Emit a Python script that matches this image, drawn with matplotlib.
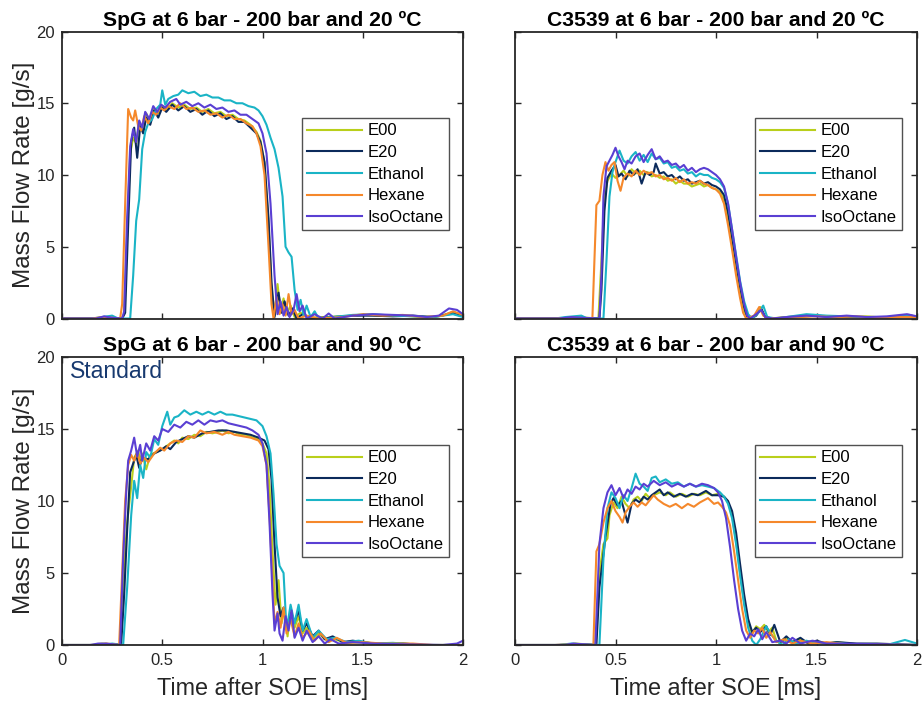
import matplotlib
matplotlib.use("Agg")
import matplotlib.pyplot as plt

plt.rcParams['font.family'] = ['Liberation Sans', 'DejaVu Sans']

# ---------------- data ----------------
FUELS = ["E00", "E20", "Ethanol", "Hexane", "IsoOctane"]
COLORS = ["#b9cf1b", "#0b2a5b", "#1ab4c6", "#f5882b", "#5a3fd3"]
TITLES = ["SpG at 6 bar - 200 bar and 20 ºC", "C3539 at 6 bar - 200 bar and 20 ºC",
          "SpG at 6 bar - 200 bar and 90 ºC", "C3539 at 6 bar - 200 bar and 90 ºC"]
XTICKS = [0, 0.5, 1, 1.5, 2]
XTICKLABELS = ["0", "0.5", "1", "1.5", "2"]
YTICKS = [0, 5, 10, 15, 20]
XLABEL = "Time after SOE [ms]"
YLABEL = "Mass Flow Rate [g/s]"
NOTE = "Standard"

# Panel A: SpG, 20 ºC  (time [ms], mass flow [g/s])
A_E00 = [(0,0),(0.18,0),(0.22,0.1),(0.26,0),(0.30,0.05),(0.31,0.3),(0.325,6),(0.34,11.5),(0.355,12.6),(0.37,12.2),(0.385,13.6),(0.40,13.2),(0.42,14.3),(0.44,13.7),(0.46,14.6),(0.48,14.3),(0.50,14.8),(0.52,14.6),(0.55,15.0),(0.58,14.7),(0.61,14.9),(0.64,14.6),(0.67,14.7),(0.70,14.4),(0.73,14.6),(0.76,14.3),(0.79,14.4),(0.82,14.1),(0.85,14.2),(0.88,13.9),(0.91,13.8),(0.94,13.5),(0.97,13.0),(0.99,12.4),(1.01,10.8),(1.03,6.5),(1.045,2.0),(1.06,0.2),(1.075,2.4),(1.09,0.5),(1.105,1.4),(1.12,0.3),(1.14,0.9),(1.16,0.1),(1.19,0.4),(1.23,0.05),(1.3,0.1),(1.4,0.15),(1.5,0.25),(1.6,0.2),(1.7,0.2),(1.8,0.1),(1.88,0.15),(1.95,0.45),(2.0,0.2)]
A_E20 = [(0,0),(0.2,0),(0.24,0.05),(0.30,0),(0.315,0.4),(0.33,6.5),(0.345,12.3),(0.36,13.3),(0.375,11.2),(0.39,13.4),(0.405,12.9),(0.42,14.0),(0.44,13.5),(0.46,14.5),(0.48,14.0),(0.50,14.7),(0.52,14.4),(0.55,14.9),(0.58,14.5),(0.61,14.8),(0.64,14.4),(0.67,14.6),(0.70,14.2),(0.73,14.5),(0.76,14.1),(0.79,14.3),(0.82,13.9),(0.85,14.1),(0.88,13.7),(0.91,13.7),(0.94,13.3),(0.97,12.9),(0.99,12.3),(1.01,10.9),(1.03,7.0),(1.045,2.5),(1.06,0.1),(1.08,1.8),(1.095,0.4),(1.11,1.2),(1.13,0.2),(1.15,0.7),(1.17,0),(1.2,0.3),(1.25,0),(1.35,0.1),(1.45,0.2),(1.55,0.2),(1.65,0.15),(1.75,0.2),(1.85,0.1),(1.95,0.35),(2.0,0.15)]
A_ETH = [(0,0),(0.15,0),(0.2,0.1),(0.25,0.2),(0.28,0),(0.34,0),(0.355,3.0),(0.37,6.8),(0.385,8.3),(0.40,11.8),(0.415,13.0),(0.43,13.6),(0.45,13.9),(0.47,14.6),(0.49,14.9),(0.50,15.9),(0.515,14.9),(0.53,15.3),(0.555,15.5),(0.58,15.6),(0.60,15.9),(0.63,15.7),(0.66,15.8),(0.69,15.5),(0.72,15.6),(0.75,15.4),(0.78,15.4),(0.81,15.2),(0.84,15.2),(0.87,15.0),(0.90,15.0),(0.93,14.8),(0.96,14.7),(0.98,14.5),(1.0,14.1),(1.02,13.5),(1.04,12.6),(1.06,11.8),(1.08,10.5),(1.10,8.5),(1.115,5.0),(1.13,4.6),(1.145,4.3),(1.16,2.0),(1.175,0.6),(1.19,1.3),(1.205,0.2),(1.22,0.9),(1.24,0.1),(1.26,0.5),(1.28,0),(1.35,0.1),(1.45,0.25),(1.55,0.3),(1.65,0.2),(1.75,0.15),(1.85,0.1),(1.95,0.3),(2.0,0.1)]
A_HEX = [(0,0),(0.15,0),(0.2,0.1),(0.25,0.05),(0.29,0),(0.30,1.0),(0.315,8),(0.33,14.6),(0.345,14.0),(0.355,13.8),(0.365,14.5),(0.38,13.4),(0.395,13.1),(0.41,14.1),(0.43,13.6),(0.45,14.4),(0.47,14.2),(0.49,14.7),(0.51,14.5),(0.53,14.8),(0.56,14.6),(0.59,15.0),(0.62,14.6),(0.65,14.7),(0.68,14.4),(0.71,14.5),(0.74,14.2),(0.77,14.3),(0.80,14.0),(0.83,14.2),(0.86,13.9),(0.89,13.9),(0.92,13.6),(0.95,13.4),(0.97,12.9),(0.99,12.0),(1.01,10.0),(1.03,5.0),(1.045,1.0),(1.055,0),(1.07,1.5),(1.085,0.3),(1.10,1.0),(1.115,0.2),(1.13,1.7),(1.145,0.3),(1.16,0.6),(1.18,0),(1.22,0.2),(1.28,0),(1.4,0.1),(1.5,0.3),(1.6,0.2),(1.7,0.25),(1.8,0.1),(1.9,0.2),(1.95,0.5),(2.0,0.25)]
A_ISO = [(0,0),(0.17,0),(0.21,0.15),(0.25,0.05),(0.30,0),(0.31,0.5),(0.325,7),(0.34,12.0),(0.355,13.2),(0.37,12.3),(0.385,13.8),(0.40,13.3),(0.415,14.4),(0.435,13.9),(0.455,14.8),(0.475,14.4),(0.495,14.9),(0.515,14.7),(0.54,15.1),(0.57,15.3),(0.59,14.9),(0.62,15.1),(0.65,14.8),(0.68,15.0),(0.71,14.7),(0.74,14.9),(0.77,14.6),(0.80,14.7),(0.83,14.4),(0.86,14.5),(0.89,14.2),(0.92,14.2),(0.95,13.9),(0.98,13.6),(1.0,12.9),(1.02,11.5),(1.04,8.0),(1.06,3.0),(1.075,0.3),(1.09,1.2),(1.105,0.2),(1.12,0.8),(1.135,0.1),(1.155,0.6),(1.17,1.7),(1.185,0.5),(1.20,0.9),(1.22,0),(1.26,0.3),(1.30,0),(1.33,0.35),(1.36,0),(1.45,0.2),(1.55,0.3),(1.65,0.25),(1.75,0.2),(1.82,0.1),(1.88,0.2),(1.93,0.7),(1.97,0.6),(2.0,0.3)]

# Panel B: C3539, 20 ºC
B_E00 = [(0,0),(0.25,0),(0.3,0.1),(0.36,0.05),(0.415,0),(0.43,4),(0.445,8.5),(0.46,9.6),(0.48,10.1),(0.50,9.8),(0.52,10.0),(0.54,10.3),(0.56,9.9),(0.58,10.4),(0.60,10.1),(0.62,10.3),(0.64,10.0),(0.66,10.2),(0.68,9.9),(0.70,10.0),(0.72,9.8),(0.74,9.9),(0.76,9.6),(0.78,9.7),(0.80,9.4),(0.82,9.6),(0.84,9.4),(0.86,9.4),(0.88,9.2),(0.90,9.3),(0.92,9.4),(0.94,9.2),(0.96,9.3),(0.98,9.1),(1.0,9.0),(1.02,8.8),(1.04,8.3),(1.06,7.0),(1.08,5.3),(1.10,3.6),(1.12,2.0),(1.135,0.8),(1.15,0.2),(1.17,0),(1.2,0.3),(1.22,0.8),(1.24,0.2),(1.27,0),(1.35,0.1),(1.45,0.2),(1.55,0.15),(1.65,0.1),(1.75,0.15),(1.85,0.05),(1.95,0.2),(2.0,0.1)]
B_E20 = [(0,0),(0.2,0),(0.3,0.05),(0.42,0),(0.43,2),(0.445,7.5),(0.46,9.8),(0.48,10.3),(0.50,10.7),(0.515,9.9),(0.53,10.1),(0.55,9.7),(0.57,10.3),(0.59,10.0),(0.61,10.4),(0.63,9.4),(0.65,10.2),(0.67,10.0),(0.69,10.2),(0.70,10.8),(0.72,10.1),(0.74,10.2),(0.76,9.9),(0.78,10.0),(0.80,9.7),(0.82,9.9),(0.84,9.6),(0.86,9.7),(0.88,9.4),(0.90,9.5),(0.92,9.6),(0.94,9.4),(0.96,9.5),(0.98,9.3),(1.0,9.2),(1.02,9.0),(1.04,8.6),(1.06,7.4),(1.08,5.6),(1.10,3.9),(1.12,2.2),(1.14,0.8),(1.155,0.1),(1.175,0),(1.2,0.2),(1.225,0.7),(1.245,0.1),(1.28,0),(1.4,0.1),(1.5,0.2),(1.6,0.1),(1.7,0.1),(1.8,0.05),(1.9,0.1),(1.96,0.25),(2.0,0.1)]
B_ETH = [(0,0),(0.2,0),(0.25,0.1),(0.33,0.2),(0.36,0),(0.44,0),(0.455,4),(0.47,8.5),(0.485,10.2),(0.50,10.9),(0.52,11.7),(0.54,11.0),(0.56,10.8),(0.58,11.3),(0.60,11.6),(0.62,11.0),(0.64,11.4),(0.66,10.9),(0.68,11.5),(0.70,11.1),(0.72,11.2),(0.74,10.8),(0.76,10.9),(0.78,10.5),(0.80,10.6),(0.82,10.3),(0.84,10.4),(0.86,10.1),(0.88,10.2),(0.90,9.9),(0.92,10.1),(0.94,10.0),(0.96,10.0),(0.98,9.8),(1.0,9.7),(1.02,9.5),(1.04,9.1),(1.06,8.0),(1.08,6.2),(1.10,4.4),(1.12,2.6),(1.14,1.2),(1.16,0.3),(1.18,0),(1.21,0.4),(1.235,0.9),(1.255,0.1),(1.3,0),(1.4,0.2),(1.45,0.3),(1.55,0.2),(1.65,0.15),(1.75,0.1),(1.85,0.1),(1.95,0.2),(2.0,0.1)]
B_HEX = [(0,0),(0.2,0),(0.3,0.05),(0.385,0),(0.395,4),(0.405,7.9),(0.42,8.2),(0.435,10.0),(0.45,10.9),(0.465,10.3),(0.48,10.7),(0.495,10.9),(0.51,9.6),(0.525,8.9),(0.54,9.8),(0.56,10.1),(0.58,9.9),(0.60,10.3),(0.62,10.0),(0.64,10.3),(0.66,10.1),(0.68,10.2),(0.70,9.9),(0.72,10.0),(0.74,9.7),(0.76,9.8),(0.78,9.6),(0.80,9.8),(0.82,9.5),(0.84,9.7),(0.86,9.4),(0.88,9.5),(0.90,9.4),(0.92,9.6),(0.94,9.4),(0.96,9.3),(0.98,9.1),(1.0,9.0),(1.02,8.7),(1.04,8.0),(1.06,6.5),(1.08,4.8),(1.10,3.0),(1.12,1.4),(1.135,0.4),(1.15,0),(1.19,0.2),(1.215,0.8),(1.235,0.2),(1.26,0),(1.4,0.1),(1.5,0.15),(1.6,0.1),(1.7,0.15),(1.8,0.05),(1.9,0.1),(2.0,0.1)]
B_ISO = [(0,0),(0.22,0),(0.28,0.1),(0.34,0.05),(0.42,0),(0.43,3),(0.44,8.5),(0.455,10.6),(0.47,11.0),(0.485,11.4),(0.50,11.9),(0.515,11.3),(0.53,10.9),(0.545,10.4),(0.56,11.0),(0.58,10.8),(0.60,11.3),(0.62,11.5),(0.64,10.9),(0.66,11.4),(0.68,11.8),(0.70,11.1),(0.72,11.3),(0.74,10.9),(0.76,11.0),(0.78,10.7),(0.80,10.8),(0.82,10.5),(0.84,10.7),(0.86,10.3),(0.88,10.5),(0.90,10.2),(0.92,10.4),(0.94,10.5),(0.96,10.4),(0.98,10.2),(1.0,10.0),(1.02,9.7),(1.04,9.2),(1.06,8.0),(1.08,6.2),(1.10,4.3),(1.12,2.5),(1.14,1.0),(1.155,0.2),(1.17,0),(1.2,0.3),(1.225,0.6),(1.245,0.1),(1.28,0),(1.35,0.1),(1.45,0.2),(1.55,0.1),(1.65,0.2),(1.75,0.1),(1.85,0.15),(1.95,0.3),(2.0,0.15)]

# Panel C: SpG, 90 ºC
C_E00 = [(0,0),(0.15,0),(0.2,0.1),(0.25,0.05),(0.29,0),(0.305,4.5),(0.325,8.5),(0.345,11.0),(0.36,13.0),(0.38,13.5),(0.39,12.8),(0.40,13.3),(0.42,12.2),(0.44,13.2),(0.47,13.4),(0.50,13.6),(0.53,13.9),(0.56,14.2),(0.58,14.0),(0.60,14.4),(0.63,14.3),(0.66,14.6),(0.69,14.5),(0.72,14.8),(0.75,14.7),(0.78,14.8),(0.80,14.9),(0.83,14.7),(0.86,14.8),(0.89,14.6),(0.92,14.6),(0.95,14.4),(0.98,14.3),(1.0,14.0),(1.02,13.3),(1.035,11.0),(1.05,6.5),(1.065,2.8),(1.08,4.5),(1.095,1.5),(1.11,2.5),(1.125,0.6),(1.14,2.4),(1.16,1.2),(1.18,2.0),(1.2,0.8),(1.22,1.2),(1.25,0.4),(1.28,0.8),(1.32,0.3),(1.36,0.4),(1.42,0.15),(1.5,0.2),(1.6,0.05),(1.7,0.1),(1.8,0),(2.0,0)]
C_E20 = [(0,0),(0.2,0),(0.25,0.05),(0.295,0),(0.31,3.5),(0.325,8.0),(0.34,12.0),(0.36,12.8),(0.37,13.2),(0.385,12.3),(0.40,13.0),(0.43,12.9),(0.46,13.3),(0.49,13.5),(0.52,13.8),(0.54,13.6),(0.57,14.1),(0.60,14.3),(0.63,14.5),(0.66,14.4),(0.70,14.7),(0.74,14.8),(0.78,14.9),(0.82,14.9),(0.86,14.8),(0.90,14.7),(0.94,14.6),(0.98,14.4),(1.01,14.2),(1.03,13.6),(1.045,11.5),(1.06,7.0),(1.075,3.3),(1.09,2.0),(1.105,2.6),(1.12,1.3),(1.14,2.2),(1.16,1.6),(1.18,2.4),(1.2,1.0),(1.22,1.5),(1.25,0.6),(1.28,1.0),(1.31,0.4),(1.35,0.6),(1.4,0.2),(1.45,0.3),(1.55,0.1),(1.7,0.1),(1.8,0),(2.0,0)]
C_ETH = [(0,0),(0.2,0),(0.25,0.1),(0.305,0),(0.325,4.0),(0.345,9.0),(0.36,11.4),(0.375,10.2),(0.39,12.5),(0.405,11.6),(0.42,13.4),(0.44,13.0),(0.46,14.3),(0.48,13.9),(0.50,15.2),(0.525,16.2),(0.54,15.3),(0.56,15.8),(0.58,15.9),(0.61,16.3),(0.64,16.0),(0.67,16.2),(0.70,16.0),(0.73,16.2),(0.76,16.0),(0.79,16.2),(0.82,16.0),(0.85,16.0),(0.88,15.9),(0.91,15.8),(0.94,15.7),(0.97,15.6),(1.0,15.2),(1.02,14.5),(1.04,13.3),(1.055,10.5),(1.07,7.0),(1.085,5.5),(1.105,5.0),(1.12,1.0),(1.14,2.8),(1.16,1.5),(1.18,2.8),(1.2,1.0),(1.22,1.8),(1.25,0.5),(1.28,1.0),(1.32,0.4),(1.36,0.5),(1.42,0.2),(1.48,0.3),(1.55,0.1),(1.65,0.15),(1.8,0),(2.0,0)]
C_HEX = [(0,0),(0.18,0),(0.22,0.1),(0.285,0),(0.30,5.0),(0.315,10.0),(0.33,12.5),(0.345,13.2),(0.36,12.8),(0.375,13.4),(0.39,12.6),(0.41,13.0),(0.43,12.7),(0.46,13.3),(0.49,13.7),(0.51,13.5),(0.54,14.0),(0.57,14.2),(0.60,14.1),(0.63,14.5),(0.66,14.4),(0.69,14.9),(0.72,14.7),(0.76,14.8),(0.80,14.6),(0.83,14.8),(0.86,14.6),(0.90,14.5),(0.94,14.4),(0.98,14.2),(1.0,13.8),(1.02,12.5),(1.035,9.0),(1.05,4.5),(1.06,1.5),(1.075,2.3),(1.09,1.2),(1.105,2.6),(1.12,0.8),(1.14,1.8),(1.16,0.6),(1.18,1.5),(1.2,0.5),(1.23,1.0),(1.26,0.3),(1.29,0.8),(1.33,0.2),(1.37,0.5),(1.42,0.15),(1.5,0.2),(1.6,0.1),(1.75,0.1),(1.85,0),(2.0,0)]
C_ISO = [(0,0),(0.14,0),(0.18,0.1),(0.22,0.1),(0.29,0),(0.305,6.0),(0.32,10.5),(0.33,12.8),(0.345,13.5),(0.36,14.4),(0.375,13.1),(0.39,13.9),(0.40,12.8),(0.42,14.0),(0.44,13.5),(0.46,14.5),(0.48,14.2),(0.50,15.0),(0.53,14.8),(0.56,15.3),(0.59,15.1),(0.62,15.5),(0.65,15.3),(0.68,15.6),(0.71,15.3),(0.74,15.6),(0.77,15.5),(0.80,15.6),(0.83,15.4),(0.86,15.3),(0.89,15.2),(0.92,15.1),(0.95,14.9),(0.98,14.6),(1.0,14.0),(1.02,12.5),(1.035,8.5),(1.05,3.5),(1.06,1.0),(1.075,2.2),(1.085,0.8),(1.1,0.3),(1.115,2.0),(1.13,1.0),(1.145,2.4),(1.16,0.5),(1.18,1.2),(1.2,0.3),(1.22,1.0),(1.25,0.2),(1.28,0.6),(1.31,0.1),(1.34,0.4),(1.38,0.1),(1.45,0.2),(1.55,0.1),(1.7,0.05),(1.9,0),(1.97,0.1),(2.0,0.3)]

# Panel D: C3539, 90 ºC
D_E00 = [(0,0),(0.25,0),(0.3,0.1),(0.35,0.05),(0.40,0),(0.42,5.0),(0.44,7.0),(0.46,7.4),(0.47,9.0),(0.49,9.9),(0.51,9.5),(0.53,10.3),(0.55,9.8),(0.57,9.5),(0.59,10.1),(0.61,10.3),(0.63,10.0),(0.65,10.5),(0.67,10.2),(0.69,10.4),(0.72,10.6),(0.75,10.4),(0.77,10.6),(0.80,10.3),(0.83,10.5),(0.86,10.3),(0.89,10.5),(0.92,10.4),(0.95,10.6),(0.98,10.4),(1.01,10.5),(1.04,10.3),(1.06,9.9),(1.08,9.0),(1.10,7.2),(1.12,5.0),(1.14,3.0),(1.16,1.5),(1.18,0.8),(1.20,1.3),(1.22,1.1),(1.24,1.4),(1.26,0.9),(1.28,1.2),(1.30,0.3),(1.32,0.1),(1.35,0.5),(1.38,0.2),(1.42,0.4),(1.46,0.1),(1.5,0.25),(1.55,0.1),(1.6,0.2),(1.7,0.05),(2.0,0)]
D_E20 = [(0,0),(0.2,0),(0.3,0.05),(0.405,0),(0.42,4.0),(0.45,7.5),(0.475,9.8),(0.49,10.2),(0.51,9.7),(0.53,10.0),(0.55,9.0),(0.56,8.5),(0.58,9.8),(0.60,10.1),(0.62,9.9),(0.64,10.3),(0.66,10.1),(0.68,10.4),(0.72,10.8),(0.74,10.4),(0.76,10.6),(0.79,10.3),(0.82,10.5),(0.85,10.3),(0.88,10.5),(0.91,10.4),(0.95,10.7),(0.98,10.4),(1.01,10.4),(1.04,10.3),(1.06,10.0),(1.08,9.3),(1.10,7.8),(1.12,5.6),(1.14,3.5),(1.16,1.8),(1.18,0.9),(1.20,1.2),(1.22,0.9),(1.25,1.3),(1.27,0.7),(1.29,1.4),(1.32,0.2),(1.35,0.6),(1.38,0.2),(1.42,0.5),(1.46,0.1),(1.5,0.3),(1.55,0.1),(1.6,0.2),(1.7,0.1),(1.8,0.1),(2.0,0)]
D_ETH = [(0,0),(0.22,0),(0.28,0.1),(0.33,0.05),(0.42,0),(0.44,6.0),(0.46,9.5),(0.48,10.6),(0.50,10.2),(0.52,9.5),(0.54,10.4),(0.56,10.0),(0.58,10.9),(0.60,11.9),(0.62,11.2),(0.64,11.0),(0.66,10.7),(0.68,11.6),(0.70,11.7),(0.72,11.3),(0.75,11.5),(0.78,11.2),(0.81,11.3),(0.84,11.0),(0.87,11.2),(0.90,11.0),(0.93,11.1),(0.96,11.0),(0.99,10.9),(1.02,10.6),(1.04,10.3),(1.06,9.8),(1.08,8.8),(1.10,7.0),(1.12,4.8),(1.14,2.8),(1.16,1.2),(1.18,0.3),(1.20,0),(1.22,0.4),(1.25,1.3),(1.27,0.8),(1.30,0.3),(1.33,0),(1.36,0.4),(1.4,0.1),(1.45,0.3),(1.5,0.1),(1.6,0.15),(1.7,0),(1.85,0),(1.94,0.35),(2.0,0.1)]
D_HEX = [(0,0),(0.2,0),(0.3,0.05),(0.39,0),(0.405,6.5),(0.42,7.0),(0.44,8.5),(0.46,9.5),(0.48,10.0),(0.50,9.3),(0.52,8.9),(0.535,8.5),(0.55,9.2),(0.57,9.6),(0.59,9.9),(0.61,9.6),(0.63,9.9),(0.65,9.7),(0.69,10.4),(0.71,10.1),(0.74,9.8),(0.77,9.6),(0.80,9.8),(0.83,9.5),(0.86,9.8),(0.89,9.6),(0.92,9.9),(0.96,10.2),(0.99,9.8),(1.01,9.9),(1.03,9.6),(1.05,9.2),(1.07,8.3),(1.09,6.5),(1.11,4.5),(1.13,2.5),(1.15,1.0),(1.17,0.5),(1.19,1.0),(1.21,0.8),(1.23,1.2),(1.25,0.5),(1.27,0.9),(1.3,0.2),(1.34,0.4),(1.38,0.1),(1.42,0.3),(1.48,0.1),(1.55,0.2),(1.65,0.05),(2.0,0)]
D_ISO = [(0,0),(0.25,0),(0.29,0.1),(0.34,0.05),(0.40,0),(0.42,7.0),(0.44,9.5),(0.46,10.6),(0.48,11.1),(0.50,10.4),(0.52,10.9),(0.54,10.2),(0.56,10.8),(0.58,10.5),(0.60,11.0),(0.62,10.8),(0.64,11.2),(0.66,11.0),(0.69,11.4),(0.72,11.1),(0.75,11.3),(0.78,11.0),(0.81,11.2),(0.84,11.0),(0.87,11.2),(0.90,11.0),(0.93,11.2),(0.96,11.1),(0.99,10.9),(1.01,10.6),(1.03,10.0),(1.05,8.8),(1.07,6.8),(1.09,4.5),(1.11,2.5),(1.13,1.0),(1.15,0.3),(1.17,0.8),(1.19,0.6),(1.21,1.1),(1.23,0.4),(1.25,0.9),(1.28,0.2),(1.32,0.3),(1.35,0.1),(1.38,0.5),(1.42,0.1),(1.48,0.3),(1.55,0.1),(1.65,0.1),(2.0,0)]

PANELS = [[A_E00, A_E20, A_ETH, A_HEX, A_ISO],
          [B_E00, B_E20, B_ETH, B_HEX, B_ISO],
          [C_E00, C_E20, C_ETH, C_HEX, C_ISO],
          [D_E00, D_E20, D_ETH, D_HEX, D_ISO]]

# ---------------- figure ----------------
W, H = 922, 703
fig = plt.figure(figsize=(W / 100, H / 100), dpi=100)

def frac(x0, y_top, x1, y_bot):
    return [x0 / W, 1 - y_bot / H, (x1 - x0) / W, (y_bot - y_top) / H]

rects = [frac(62, 31.5, 463, 318.5), frac(515, 31.5, 917, 318.5),
         frac(62, 357, 463, 645), frac(515, 357, 917, 645)]
leg_anchor = [(0.5985, 0.697), (0.597, 0.697), (0.5985, 0.693), (0.597, 0.693)]

axc = "#262626"
for i, rect in enumerate(rects):
    ax = fig.add_axes(rect)
    for series, name, col in zip(PANELS[i], FUELS, COLORS):
        t = [p[0] for p in series]
        v = [p[1] for p in series]
        ax.plot(t, v, color=col, lw=1.5, label=name, solid_joinstyle='round')
    ax.set_xlim(0, 2)
    ax.set_ylim(0, 20)
    ax.set_xticks(XTICKS)
    ax.set_yticks(YTICKS)
    ax.tick_params(direction='in', top=True, right=True, length=4.5, width=1.0,
                   colors=axc, labelsize=12)
    ax.tick_params(axis='x', pad=6)
    ax.tick_params(axis='y', pad=5)
    for s in ax.spines.values():
        s.set_linewidth(1.3)
        s.set_color(axc)
    if i < 2:
        ax.set_xticklabels([])
    else:
        ax.set_xticklabels(XTICKLABELS)
        ax.set_xlabel(XLABEL, fontsize=16.8, color=axc, labelpad=6)
    if i % 2 == 1:
        ax.set_yticklabels([])
    else:
        ax.set_ylabel(YLABEL, fontsize=17.5, color=axc, labelpad=1)
    ax.set_title(TITLES[i], fontsize=15.2, fontweight='bold', pad=4, color='black')
    leg = ax.legend(loc='upper left', bbox_to_anchor=leg_anchor[i], borderaxespad=0,
                    fontsize=12, frameon=True, fancybox=False, edgecolor=axc,
                    handlelength=3.3, handletextpad=0.35, labelspacing=0.4,
                    borderpad=0.3)
    leg.get_frame().set_linewidth(1.0)
    if i == 2:
        ax.text(0.04, 19.0, NOTE, fontsize=16.5, color="#17396f", va='center', ha='left')

fig.savefig("out.png", dpi=100, facecolor='white')
